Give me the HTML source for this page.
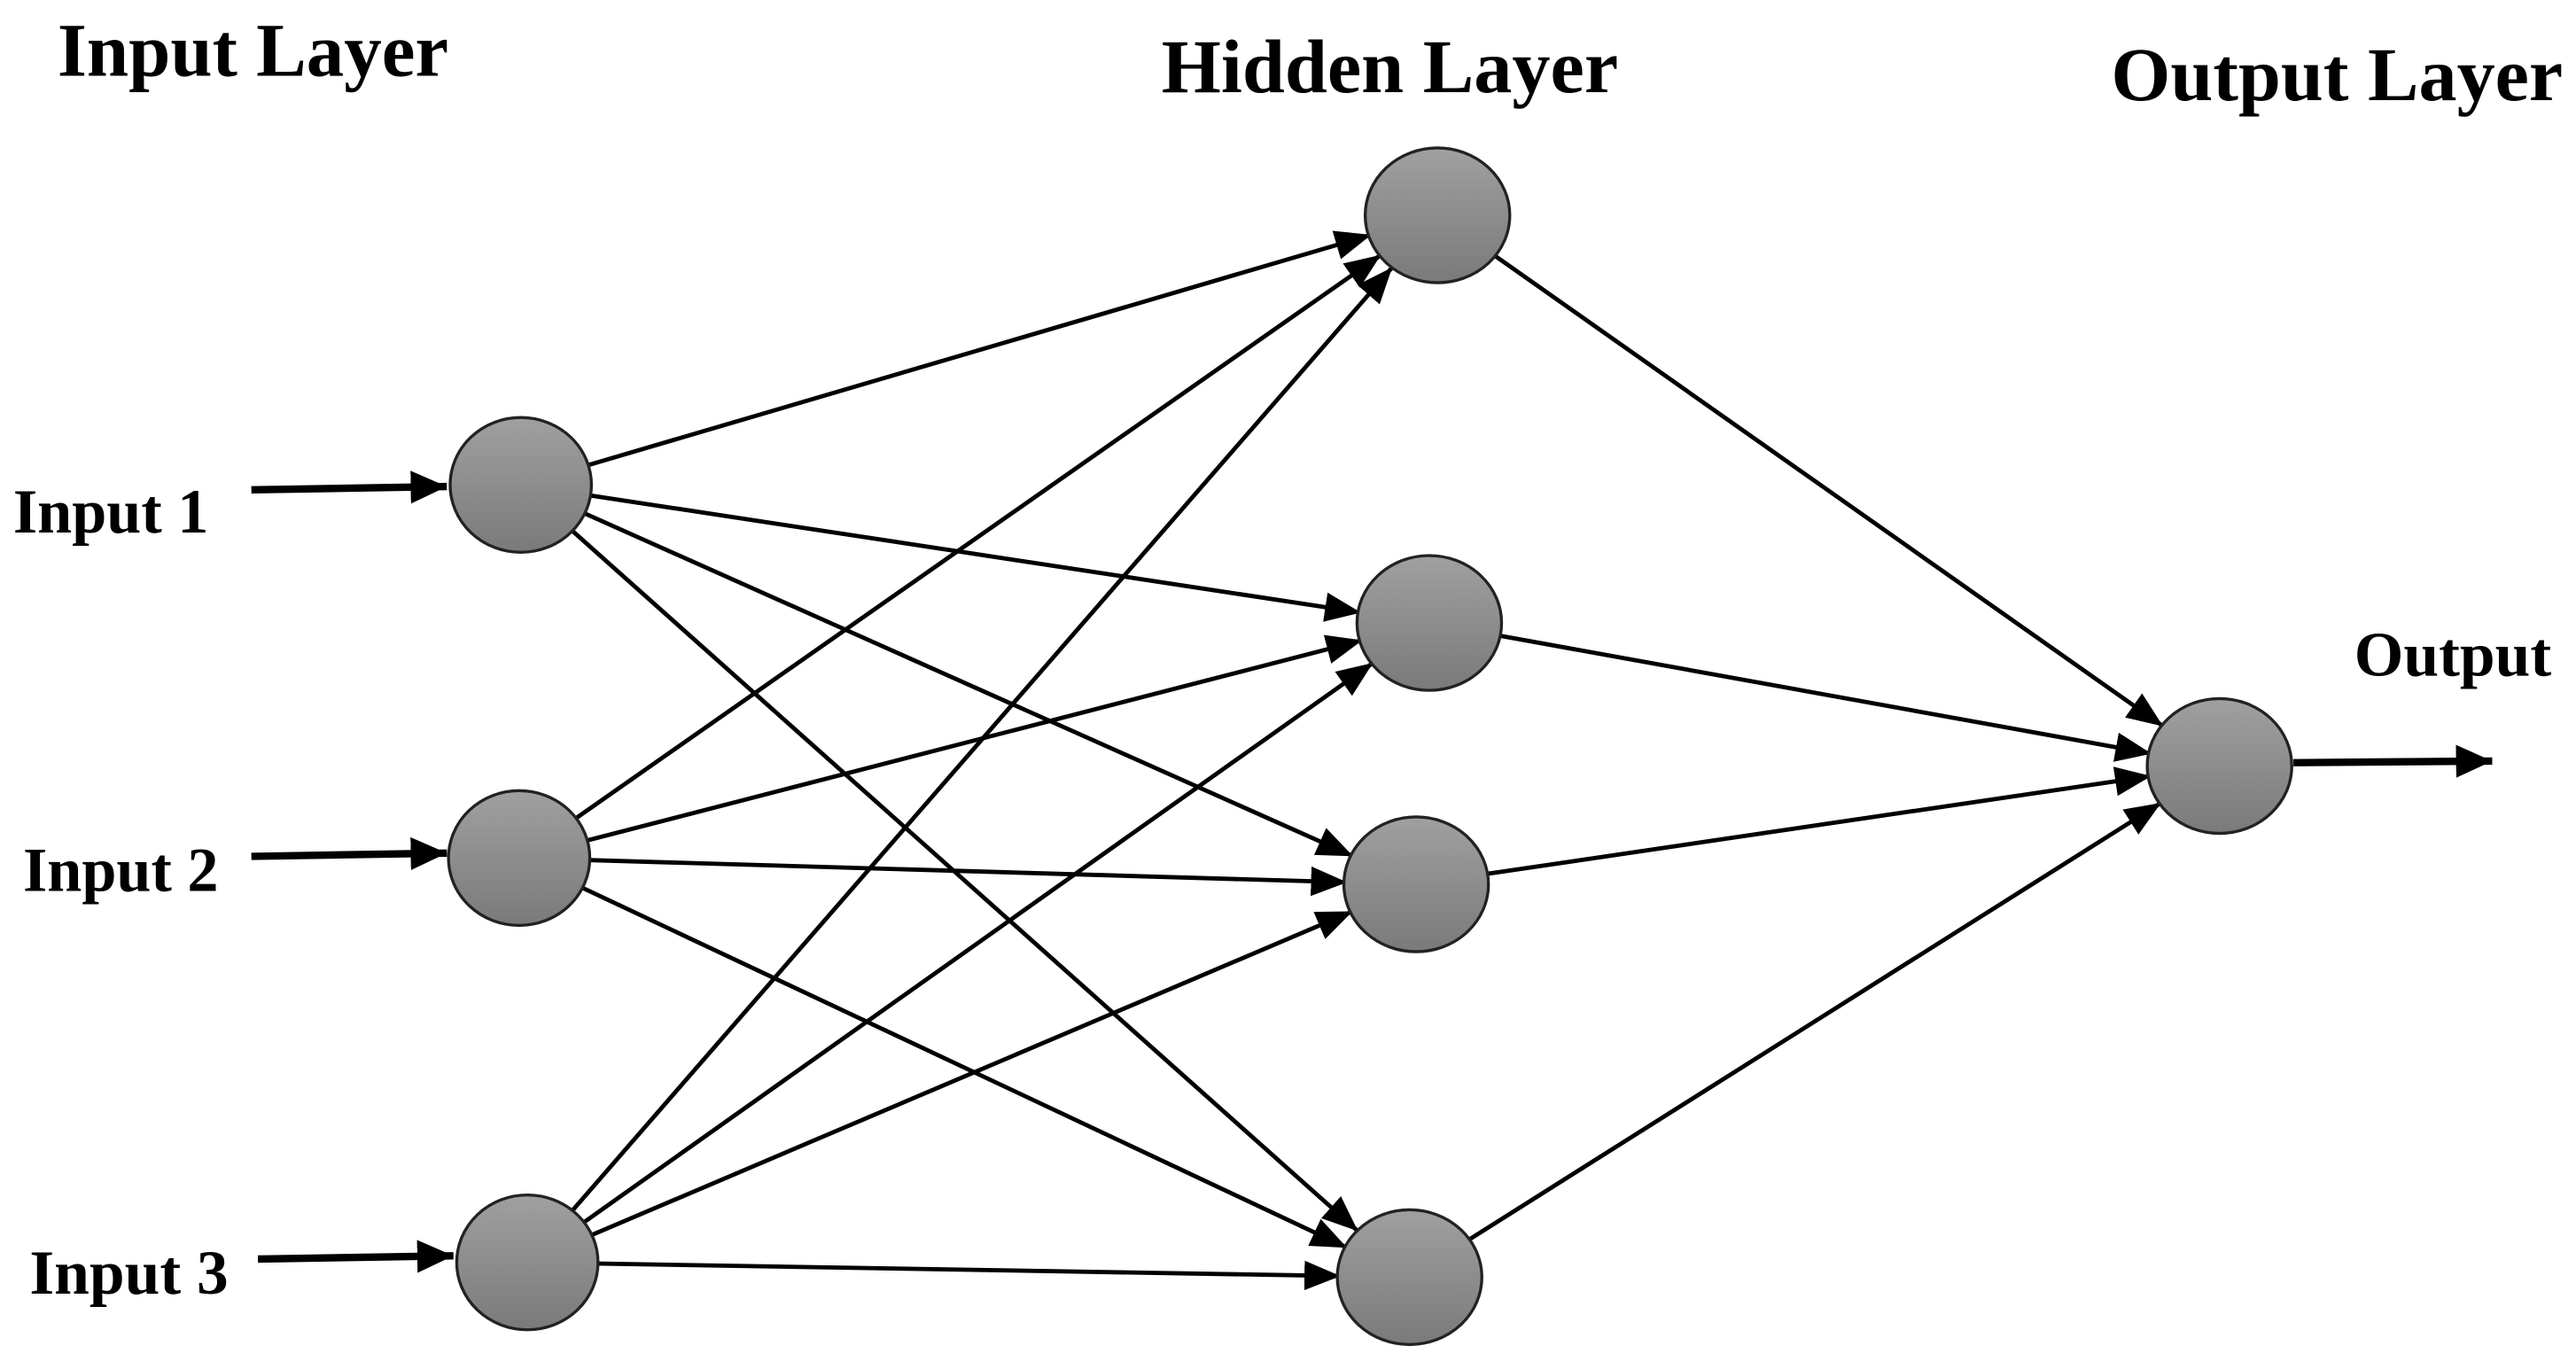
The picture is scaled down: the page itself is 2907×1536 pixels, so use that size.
<!DOCTYPE html>
<html><head><meta charset="utf-8"><style>
html,body{margin:0;padding:0;background:#fff;}
svg{display:block;}
text{font-family:"Liberation Serif",serif;font-weight:bold;fill:#000;}
</style></head><body>
<svg width="2907" height="1536" viewBox="0 0 1568 828" preserveAspectRatio="none" xmlns="http://www.w3.org/2000/svg">
<defs>
<linearGradient id="g" x1="0" y1="0" x2="0" y2="1">
<stop offset="0" stop-color="#a0a0a0"/><stop offset="1" stop-color="#7a7a7a"/>
</linearGradient>
<marker id="a" markerUnits="userSpaceOnUse" markerWidth="90" markerHeight="40" viewBox="0 0 90 40" refX="64" refY="20" orient="auto">
<path d="M0,11 L22,20 L0,29 Z" fill="#000"/>
</marker>
<marker id="b" markerUnits="userSpaceOnUse" markerWidth="40" markerHeight="40" viewBox="0 0 40 40" refX="22" refY="20" orient="auto">
<path d="M0,10 L22,20 L0,30 Z" fill="#000"/>
</marker>
</defs>
<g stroke="#000" stroke-width="2.6" fill="none">
<line x1="317" y1="295" x2="875" y2="131" marker-end="url(#a)"/>
<line x1="317" y1="295" x2="870" y2="379" marker-end="url(#a)"/>
<line x1="317" y1="295" x2="862" y2="538" marker-end="url(#a)"/>
<line x1="317" y1="295" x2="858" y2="777" marker-end="url(#a)"/>
<line x1="316" y1="522" x2="875" y2="131" marker-end="url(#a)"/>
<line x1="316" y1="522" x2="870" y2="379" marker-end="url(#a)"/>
<line x1="316" y1="522" x2="862" y2="538" marker-end="url(#a)"/>
<line x1="316" y1="522" x2="858" y2="777" marker-end="url(#a)"/>
<line x1="321" y1="768" x2="875" y2="131" marker-end="url(#a)"/>
<line x1="321" y1="768" x2="870" y2="379" marker-end="url(#a)"/>
<line x1="321" y1="768" x2="862" y2="538" marker-end="url(#a)"/>
<line x1="321" y1="768" x2="858" y2="777" marker-end="url(#a)"/>
<line x1="875" y1="131" x2="1351" y2="466" marker-end="url(#a)"/>
<line x1="870" y1="379" x2="1351" y2="466" marker-end="url(#a)"/>
<line x1="862" y1="538" x2="1351" y2="466" marker-end="url(#a)"/>
<line x1="858" y1="777" x2="1351" y2="466" marker-end="url(#a)"/>
</g>
<g stroke="#000" stroke-width="4.5" fill="none">
<line x1="153" y1="298" x2="272" y2="296" marker-end="url(#b)"/>
<line x1="153" y1="521" x2="272" y2="519" marker-end="url(#b)"/>
<line x1="157" y1="766" x2="276" y2="764" marker-end="url(#b)"/>
<line x1="1396" y1="464" x2="1517" y2="463" marker-end="url(#b)"/>
</g>
<g fill="url(#g)" stroke="#222" stroke-width="1.8">
<ellipse cx="317" cy="295" rx="43" ry="41"/>
<ellipse cx="316" cy="522" rx="43" ry="41"/>
<ellipse cx="321" cy="768" rx="43" ry="41"/>
<ellipse cx="875" cy="131" rx="44" ry="41"/>
<ellipse cx="870" cy="379" rx="44" ry="41"/>
<ellipse cx="862" cy="538" rx="44" ry="41"/>
<ellipse cx="858" cy="777" rx="44" ry="41"/>
<ellipse cx="1351" cy="466" rx="44" ry="41"/>
</g>
<text x="35" y="46" font-size="46" textLength="238" lengthAdjust="spacingAndGlyphs">Input Layer</text>
<text x="707" y="56" font-size="46" textLength="278" lengthAdjust="spacingAndGlyphs">Hidden Layer</text>
<text x="1285" y="61" font-size="46" textLength="275" lengthAdjust="spacingAndGlyphs">Output Layer</text>
<text x="8" y="324" font-size="38" textLength="119" lengthAdjust="spacingAndGlyphs">Input 1</text>
<text x="14" y="542" font-size="38" textLength="119" lengthAdjust="spacingAndGlyphs">Input 2</text>
<text x="18" y="787" font-size="38" textLength="121" lengthAdjust="spacingAndGlyphs">Input 3</text>
<text x="1433" y="411" font-size="38" textLength="120" lengthAdjust="spacingAndGlyphs">Output</text>
</svg>
</body></html>
